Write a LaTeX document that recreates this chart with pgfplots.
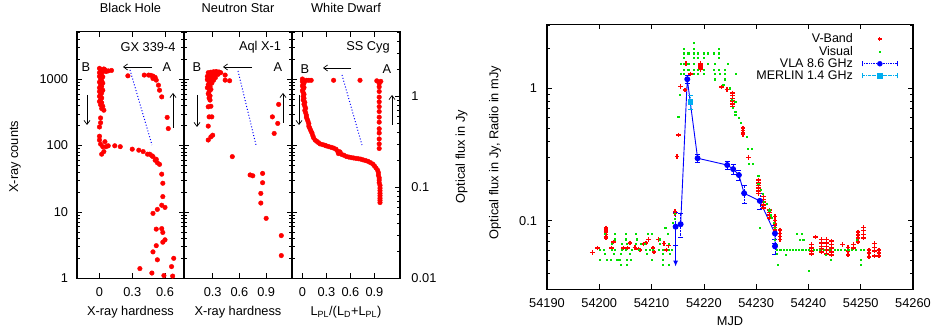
\documentclass[border=0pt]{standalone}
\usepackage{fontspec}
\setmainfont{Liberation Sans}
\usepackage{pgfplots}
\pgfplotsset{compat=1.18}
\usetikzlibrary{arrows.meta}
\definecolor{vis}{RGB}{0,225,0}
\pgfplotsset{
  every axis/.append style={scale only axis, anchor=south west,
    axis line style={line width=1.1pt},
    tick style={line width=0.6pt, black},
    major tick length=5pt, minor tick length=3pt,
    /pgf/number format/assume math mode=true,
    /pgf/number format/1000 sep={},
    xticklabel style={yshift=-4.5pt},
  },
}
\begin{document}
\fontsize{12.8}{15}\selectfont
\begin{tikzpicture}[x=1pt,y=1pt]
\path[use as bounding box] (0,0) rectangle (931,331);

% ---------- Black Hole ----------
\begin{axis}[at={(77pt,52.7pt)}, width=107pt, height=246.6pt,
  title style={at={(axis description cs:0.5,1)},anchor=center,yshift=18pt},
  xlabel style={at={(axis description cs:0.5,0)},anchor=center,yshift=-33.5pt},
  ymode=log, ymin=1, ymax=5176, ytick={1,10,100,1000},
  minor ytick={2,3,4,5,6,7,8,9,20,30,40,50,60,70,80,90,200,300,400,500,600,700,800,900,2000,3000,4000,5000},
  xmin=-0.206, xmax=0.774, xtick={0,0.3,0.6},
  yticklabels={1,10,100,1000}, yticklabel style={xshift=-4.5pt},
  title={Black Hole}, xlabel={X-ray hardness}, ylabel={X-ray counts},
  ylabel style={at={(axis description cs:-0.579,0.493)},anchor=center}]
\addplot[only marks, mark=*, mark size=2.3pt, red, mark options={fill=red, draw=red}] table[row sep=\\] {x y\\
0.00 1450\\ 0.01 1400\\ 0.02 1350\\ 0.03 1300\\ 0.04 1420\\ 0.05 1380\\ 0.06 1300\\ 0.08 1330\\ 0.11 1350\\
0.00 1250\\ 0.01 1200\\ 0.02 1150\\ 0.00 1100\\ 0.03 1080\\ 0.01 1000\\ 0.02 950\\ 0.00 900\\ 0.03 870\\
0.01 820\\ 0.02 780\\ 0.00 740\\ 0.01 700\\ 0.03 680\\ 0.00 650\\ 0.02 620\\ 0.01 580\\ 0.00 550\\ 0.02 520\\
0.01 490\\ 0.00 460\\ 0.02 440\\ 0.01 410\\ 0.03 390\\ 0.02 360\\ 0.04 340\\ 0.01 260\\ 0.01 220\\ 0.00 190\\
0.00 138\\ 0.00 121\\ 0.01 105\\ 0.05 114\\ 0.06 96\\ 0.03 96\\ 0.04 81\\ 0.02 74\\ 0.08 99\\ 0.14 99\\ 0.19 96\\
0.30 88\\ 0.36 85\\ 0.40 81\\ 0.44 74\\ 0.46 74\\ 0.48 70\\ 0.49 68\\ 0.51 60\\ 0.52 62\\ 0.53 55\\ 0.55 52\\
0.57 37\\ 0.58 27\\ 0.58 17\\ 0.57 12.6\\ 0.60 11.7\\ 0.53 10.9\\ 0.49 9.5\\ 0.52 5.5\\ 0.57 5.6\\ 0.58 4.9\\
0.60 3.8\\ 0.52 3.1\\ 0.58 3.5\\ 0.49 2.5\\ 0.53 1.9\\ 0.68 2.0\\ 0.66 1.5\\ 0.59 1.1\\ 0.67 1.08\\ 0.37 1.4\\ 0.48 1.2\\
0.26 1120\\ 0.41 1150\\ 0.45 1150\\ 0.47 1140\\ 0.49 1110\\ 0.51 1060\\ 0.52 965\\ 0.54 810\\ 0.55 680\\
0.57 540\\ 0.62 265\\ 0.63 180\\ 0.49 1020\\
};
\end{axis}

% ---------- Neutron Star ----------
\begin{axis}[at={(184pt,52.7pt)}, width=108pt, height=246.6pt,
  title style={at={(axis description cs:0.5,1)},anchor=center,yshift=18pt},
  xlabel style={at={(axis description cs:0.5,0)},anchor=center,yshift=-33.5pt},
  ymode=log, ymin=1, ymax=5176, ytick={1,10,100,1000},
  minor ytick={2,3,4,5,6,7,8,9,20,30,40,50,60,70,80,90,200,300,400,500,600,700,800,900,2000,3000,4000,5000},
  xmin=-0.022, xmax=1.19, xtick={0.3,0.6,0.9}, yticklabels={},
  title={Neutron Star}, xlabel={X-ray hardness}]
\addplot[only marks, mark=*, mark size=2.3pt, red, mark options={fill=red, draw=red}] table[row sep=\\] {x y\\
0.25 1250\\ 0.28 1270\\ 0.31 1290\\ 0.34 1300\\ 0.37 1280\\ 0.39 1250\\ 0.30 1200\\ 0.33 1220\\ 0.36 1180\\
0.27 1150\\ 0.24 1100\\ 0.29 1120\\ 0.32 1150\\ 0.26 1050\\ 0.30 1020\\ 0.33 1050\\ 0.24 980\\ 0.28 950\\
0.31 960\\ 0.26 900\\ 0.29 870\\ 0.25 820\\ 0.27 780\\ 0.24 740\\ 0.28 700\\ 0.26 650\\ 0.25 600\\ 0.27 560\\
0.26 520\\ 0.27 483\\ 0.25 383\\ 0.28 390\\ 0.29 270\\ 0.26 270\\ 0.25 196\\ 0.28 135\\ 0.25 121\\ 0.30 143\\
0.44 1150\\ 0.44 965\\ 0.49 945\\
0.52 68\\ 0.72 36\\ 0.75 35\\ 0.86 38\\ 0.86 27.5\\ 0.84 19\\ 0.84 13.6\\ 0.90 8\\ 1.07 4.4\\ 1.07 2.2\\
1.04 416\\ 0.97 270\\ 1.03 215\\ 0.99 152\\
};
\end{axis}

% ---------- White Dwarf (left ticks in counts) ----------
\begin{axis}[at={(292pt,52.7pt)}, width=108pt, height=246.6pt,
  ymode=log, ymin=1, ymax=5176, ytick={1,10,100,1000},
  minor ytick={2,3,4,5,6,7,8,9,20,30,40,50,60,70,80,90,200,300,400,500,600,700,800,900,2000,3000,4000,5000},
  xmin=-0.13, xmax=1.22, xtick=\empty, yticklabels={}, ytick pos=left,
  axis line style={draw=none}]
\end{axis}
\begin{axis}[at={(292pt,52.7pt)}, width=108pt, height=246.6pt,
  title style={at={(axis description cs:0.5,1)},anchor=center,yshift=18pt},
  xlabel style={at={(axis description cs:0.5,0)},anchor=center,yshift=-33.5pt},
  xmin=-0.13, xmax=1.22, xtick={0,0.3,0.6,0.9},
  ymode=log, ymin=0.01, ymax=5.13, ytick={0.01,0.1,1}, yticklabels={0.01,0.1,1},
  minor ytick={0.02,0.03,0.04,0.05,0.06,0.07,0.08,0.09,0.2,0.3,0.4,0.5,0.6,0.7,0.8,0.9,2,3,4,5},
  ytick pos=right, yticklabel pos=right, yticklabel style={xshift=7pt},
  title={White Dwarf}, xlabel={L\textsubscript{PL}/(L\textsubscript{D}+L\textsubscript{PL})},
  ylabel={Optical flux in Jy},
  ylabel style={at={(axis description cs:1.571,0.493)},anchor=center}]
\addplot[only marks, mark=*, mark size=2.3pt, red, mark options={fill=red, draw=red}] table[row sep=\\] {x y\\
0.00 1.55\\ 0.01 1.50\\ 0.00 1.45\\ 0.02 1.40\\ 0.01 1.35\\ 0.00 1.30\\ 0.02 1.25\\ 0.01 1.20\\ 0.00 1.15\\
0.01 1.10\\ 0.02 1.05\\ 0.01 1.00\\ 0.02 0.95\\ 0.01 0.91\\ 0.03 0.86\\ 0.02 0.82\\ 0.03 0.78\\ 0.04 0.74\\
0.03 0.70\\ 0.04 0.66\\ 0.05 0.62\\ 0.05 0.59\\ 0.06 0.56\\ 0.07 0.53\\ 0.08 0.50\\ 0.08 0.47\\ 0.09 0.45\\
0.10 0.43\\ 0.11 0.41\\ 0.12 0.395\\ 0.13 0.37\\ 0.14 0.35\\ 0.16 0.33\\ 0.18 0.32\\ 0.20 0.31\\ 0.22 0.30\\
0.25 0.295\\ 0.28 0.29\\ 0.30 0.285\\ 0.33 0.28\\ 0.36 0.275\\ 0.39 0.27\\ 0.42 0.262\\ 0.44 0.25\\ 0.46 0.24\\
0.45 0.235\\ 0.47 0.245\\ 0.49 0.23\\ 0.52 0.225\\ 0.55 0.218\\ 0.58 0.215\\ 0.61 0.212\\ 0.64 0.21\\ 0.67 0.208\\
0.70 0.206\\ 0.73 0.204\\ 0.76 0.20\\ 0.79 0.197\\ 0.82 0.193\\ 0.85 0.187\\ 0.88 0.18\\ 0.90 0.172\\ 0.92 0.163\\
0.94 0.154\\ 0.95 0.145\\ 0.95 0.136\\ 0.96 0.127\\ 0.96 0.120\\ 0.96 0.112\\ 0.97 0.105\\ 0.97 0.098\\
0.97 0.092\\ 0.97 0.086\\ 0.97 0.081\\ 0.97 0.076\\ 0.97 0.072\\ 0.97 0.068\\
0.05 1.50\\ 0.08 1.50\\ 0.11 1.50\\ 0.39 1.50\\ 0.72 1.50\\ 0.93 1.48\\ 0.98 1.46\\
0.96 1.38\\ 0.96 1.27\\ 0.96 1.13\\ 0.96 0.98\\ 0.96 0.87\\ 0.96 0.77\\ 0.96 0.68\\ 0.96 0.59\\ 0.96 0.52\\
0.96 0.44\\ 0.96 0.395\\ 0.96 0.34\\ 0.96 0.30\\ 0.96 0.267\\
};
\end{axis}

% ---------- Light curve ----------
\begin{axis}[at={(547pt,41.7pt)}, width=366pt, height=265pt,
  xmin=54190, xmax=54260, xtick={54190,54200,54210,54220,54230,54240,54250,54260},
  scaled x ticks=false,
  xticklabels={54190,54200,54210,54220,54230,54240,54250,54260},
  ymode=log, ymin=0.0303, ymax=3.04, ytick={0.1,1}, yticklabels={0.1,1},
  minor ytick={0.04,0.05,0.06,0.07,0.08,0.09,0.2,0.3,0.4,0.5,0.6,0.7,0.8,0.9,2,3},
  yticklabel style={xshift=-5.5pt},
  xlabel={MJD}, xlabel style={at={(axis description cs:0.5,0)},anchor=center,yshift=-32pt},
  ylabel={Optical flux in Jy, Radio in mJy},
  ylabel style={at={(axis description cs:-0.142,0.516)},anchor=center},
  legend style={at={(axis description cs:1,1)}, anchor=north east, xshift=-12pt, yshift=-5pt,
    draw=none, fill=none, font=\fontsize{12.5}{13}\selectfont, row sep=-2.5pt, column sep=7pt},
  legend cell align=right, legend plot pos=right]
\addplot[only marks, mark=+, mark size=2.3pt, red, mark options={line width=1.4pt},
  legend image code/.code={\path (0pt,0pt) (35pt,0pt); \draw[draw=red,line width=1.1pt] (15.3pt,0pt)--(19.7pt,0pt) (17.5pt,-2.2pt)--(17.5pt,2.2pt);}]
 table[row sep=\\] {x y\\
54198.66 0.0573\\ 54199.62 0.062\\ 54201.28 0.088\\ 54201.28 0.085\\ 54201.28 0.082\\ 54201.28 0.079\\
54201.28 0.076\\ 54201.28 0.074\\ 54202.37 0.062\\ 54202.68 0.069\\ 54204.6 0.062\\ 54205.4 0.062\\
54205.9 0.068\\ 54206.8 0.063\\ 54207.5 0.061\\ 54207.8 0.060\\ 54208.4 0.0665\\ 54208.9 0.068\\
54209.4 0.072\\ 54210.3 0.062\\ 54210.5 0.058\\ 54211.3 0.072\\ 54212.4 0.067\\ 54212.9 0.060\\
54213.2 0.065\\ 54214.5 0.117\\ 54214.5 0.113\\ 54214.9 0.304\\ 54215.1 0.443\\ 54215.56 1.03\\
54216.4 0.97\\ 54216.6 1.53\\ 54217.4 1.28\\ 54219.4 1.54\\ 54219.4 1.50\\ 54219.4 1.46\\ 54219.4 1.42\\
54219.4 1.38\\ 54223.4 1.02\\ 54224.4 0.98\\ 54225.5 0.92\\ 54225.5 0.88\\ 54225.5 0.84\\ 54225.5 0.80\\
54225.5 0.76\\ 54225.5 0.73\\ 54227.5 0.50\\ 54227.5 0.48\\ 54227.5 0.46\\ 54227.5 0.445\\ 54228.5 0.30\\
54230.4 0.203\\ 54230.4 0.193\\ 54230.4 0.184\\ 54230.4 0.176\\ 54230.4 0.168\\ 54230.4 0.161\\
54231.4 0.152\\ 54231.4 0.145\\ 54231.4 0.138\\ 54231.4 0.131\\ 54231.4 0.125\\ 54232.5 0.120\\
54232.5 0.115\\ 54232.5 0.110\\ 54232.5 0.105\\ 54233.6 0.107\\ 54233.6 0.100\\ 54233.6 0.094\\
54233.6 0.089\\ 54233.6 0.085\\ 54234.6 0.085\\ 54234.6 0.080\\ 54234.6 0.076\\ 54234.6 0.072\\
54240.6 0.066\\ 54240.6 0.062\\ 54240.6 0.059\\ 54240.6 0.056\\ 54241.4 0.075\\ 54242.5 0.072\\
54242.5 0.068\\ 54242.5 0.064\\ 54242.5 0.061\\ 54242.5 0.058\\ 54243.5 0.072\\ 54243.5 0.068\\
54243.5 0.064\\ 54243.5 0.060\\ 54243.5 0.056\\ 54244.4 0.070\\ 54244.4 0.066\\ 54244.4 0.062\\
54244.4 0.058\\ 54244.4 0.055\\ 54246.5 0.066\\ 54247.6 0.063\\ 54247.6 0.059\\ 54247.6 0.055\\
54248.6 0.066\\ 54248.6 0.062\\ 54249.5 0.082\\ 54249.5 0.078\\ 54249.5 0.074\\ 54249.5 0.069\\
54250.5 0.089\\ 54250.5 0.084\\ 54250.5 0.079\\ 54250.5 0.074\\ 54251.6 0.060\\ 54251.6 0.057\\
54251.6 0.053\\ 54252.6 0.067\\ 54252.6 0.063\\ 54252.6 0.059\\ 54252.6 0.054\\ 54253.5 0.060\\
54253.5 0.057\\ 54253.5 0.054\\
};
\addlegendentry{V-Band}
\addplot[only marks, mark=square*, mark size=0.55pt, vis, mark options={draw=none, fill=vis},
  legend image code/.code={\path (0pt,0pt) (35pt,0pt); \fill[vis] (16.9pt,-0.6pt) rectangle (18.1pt,0.6pt);}]
 table[row sep=\\] {x y\\
54201.1 0.0803\\ 54202.9 0.0803\\ 54205.1 0.0803\\ 54207.0 0.0803\\ 54209.2 0.0803\\ 54210.0 0.0803\\ 54213.1 0.0803\\
54203.0 0.0724\\ 54205.1 0.0724\\ 54207.2 0.0724\\ 54211.5 0.0724\\
54202.4 0.0667\\ 54204.3 0.0667\\ 54205.2 0.0667\\ 54207.0 0.0667\\ 54207.9 0.0667\\ 54208.7 0.0667\\ 54211.6 0.0667\\ 54213.2 0.0667\\
54200.1 0.0608\\ 54200.9 0.0608\\ 54202.4 0.0608\\ 54203.0 0.0608\\ 54204.3 0.0608\\ 54205.1 0.0608\\ 54206.2 0.0608\\ 54207.5 0.0608\\
54208.9 0.0608\\ 54209.7 0.0608\\ 54210.3 0.0608\\ 54211.3 0.0608\\ 54212.2 0.0608\\ 54213.2 0.0608\\ 54213.8 0.0608\\
54201.1 0.056\\ 54202.7 0.056\\ 54204.1 0.056\\ 54205.9 0.056\\ 54209.1 0.056\\ 54212.2 0.056\\ 54213.4 0.056\\
54200.1 0.0505\\ 54201.4 0.0505\\ 54202.2 0.0505\\ 54203.3 0.0505\\ 54203.8 0.0505\\ 54205.2 0.0505\\ 54206.0 0.0505\\ 54210.0 0.0505\\ 54212.1 0.0505\\
54204.1 0.0463\\ 54205.2 0.0463\\ 54212.1 0.0463\\ 54213.2 0.0463\\
54212.6 0.0878\\ 54214.0 0.097\\ 54214.5 0.113\\ 54214.4 0.104\\ 54215.1 0.61\\ 54215.3 0.89\\
54218.0 2.21\\ 54216.1 2.0\\ 54218.0 2.0\\ 54222.9 2.0\\
54216.1 1.84\\ 54217.0 1.84\\ 54218.0 1.84\\ 54218.9 1.84\\ 54219.9 1.84\\ 54220.8 1.84\\ 54221.8 1.84\\ 54222.9 1.84\\
54216.1 1.69\\ 54218.0 1.69\\ 54218.9 1.69\\ 54219.9 1.69\\ 54222.9 1.69\\
54215.6 1.53\\ 54216.1 1.53\\ 54217.0 1.53\\ 54218.0 1.53\\ 54220.8 1.53\\ 54222.0 1.53\\ 54224.6 1.53\\
54216.1 1.39\\ 54217.0 1.39\\ 54218.0 1.39\\ 54218.9 1.39\\ 54219.9 1.39\\ 54221.8 1.39\\ 54222.9 1.39\\ 54224.0 1.39\\
54215.6 1.28\\ 54216.1 1.28\\ 54218.0 1.28\\ 54218.9 1.28\\ 54219.9 1.28\\ 54222.0 1.28\\ 54223.0 1.28\\ 54224.0 1.28\\ 54226.1 1.28\\
54222.0 1.17\\ 54224.0 1.17\\
54223.7 1.06\\ 54225.0 1.0\\ 54225.3 0.82\\ 54226.0 0.79\\ 54225.5 0.71\\ 54226.0 0.67\\ 54226.0 0.63\\ 54226.6 0.60\\
54227.1 0.55\\ 54228.2 0.43\\ 54228.3 0.35\\ 54229.1 0.35\\ 54228.5 0.27\\ 54229.4 0.27\\ 54230.4 0.22\\ 54230.4 0.19\\
54230.8 0.17\\ 54231.2 0.16\\ 54231.4 0.14\\ 54232.0 0.135\\ 54232.5 0.12\\ 54232.8 0.11\\ 54233.0 0.105\\ 54233.3 0.097\\
54233.5 0.088\\ 54230.7 0.088\\ 54233.6 0.072\\ 54234.0 0.066\\ 54234.0 0.056\\
54234.0 0.0608\\ 54234.6 0.0608\\ 54235.2 0.0608\\ 54235.8 0.0608\\ 54236.4 0.0608\\ 54237.0 0.0608\\
54237.6 0.0608\\ 54238.2 0.0608\\ 54238.8 0.0608\\ 54239.4 0.0608\\ 54240.0 0.0608\\ 54241.0 0.0608\\
54241.6 0.0608\\ 54242.2 0.0608\\ 54243.0 0.0608\\ 54244.0 0.0608\\ 54245.0 0.0608\\ 54245.6 0.0608\\
54246.2 0.0608\\ 54247.0 0.0608\\ 54247.6 0.0608\\ 54248.2 0.0608\\ 54249.0 0.0608\\ 54250.0 0.0608\\ 54250.6 0.0608\\
54237.8 0.080\\ 54238.7 0.080\\ 54238.3 0.072\\ 54239.0 0.072\\ 54249.2 0.072\\ 54235.7 0.055\\ 54243.3 0.055\\
54244.3 0.0505\\ 54250.0 0.0505\\ 54250.0 0.0463\\ 54234.2 0.0463\\ 54240.0 0.042\\
};
\addlegendentry{Visual}
\addplot[blue, line width=0.9pt, mark=*, mark size=2.5pt, mark options={fill=blue, solid},
  forget plot,
  error bars/.cd, y dir=both, y explicit,
  error bar style={blue, densely dotted, line width=0.6pt},
  error mark options={blue, rotate=90, mark size=2.5pt, solid, line width=0.5pt}]
 coordinates {
(54214.6,0.090) +- (0,0.025)
(54215.56,0.094) +- (0,0.019)
(54216.83,1.17) +- (0,0.08)
(54218.8,0.296) +- (0,0.02)
(54224.47,0.263) +- (0,0.02)
(54225.6,0.245) +- (0,0.02)
(54226.7,0.221) +- (0,0.02)
(54227.7,0.161) +- (0,0.025)
(54230.7,0.141) +- (0,0.02)
(54233.6,0.080) +- (0,0.012)
(54233.6,0.064) +- (0,0.008)
};
\addlegendimage{legend image code/.code={\draw[blue, densely dotted, line width=0.7pt] (0pt,0pt)--(35pt,0pt); \draw[blue,line width=0.6pt] (0pt,-2.5pt)--(0pt,2.5pt) (35pt,-2.5pt)--(35pt,2.5pt); \fill[blue] (17.5pt,0pt) circle (2.5pt);}}
\addlegendentry{VLA 8.6 GHz}
\addplot[cyan, line width=0.9pt, mark=square*, mark size=2.3pt, mark options={fill=cyan, solid},
  forget plot,
  error bars/.cd, y dir=both, y explicit,
  error bar style={cyan, densely dashdotted, line width=0.6pt},
  error mark options={cyan, rotate=90, mark size=2.5pt, solid}]
 coordinates {(54217.47,0.79) +- (0,0.1)};
\addlegendimage{legend image code/.code={\draw[cyan, densely dashdotted, line width=0.9pt] (0pt,0pt)--(35pt,0pt); \draw[cyan,line width=0.6pt] (0pt,-2.5pt)--(0pt,2.5pt) (35pt,-2.5pt)--(35pt,2.5pt); \fill[cyan] (15pt,-2.5pt) rectangle (20pt,2.5pt);}}
\addlegendentry{MERLIN 1.4 GHz}
\draw[blue, line width=1pt, -{Latex[length=6pt,width=5pt]}] (axis cs:54214.6,0.09) -- (axis cs:54214.6,0.045);
\end{axis}

% ---------- annotations ----------
\node at (148,284) {GX 339-4};
\node at (260,284) {Aql X-1};
\node at (368,284) {SS Cyg};
\node at (86,264) {B}; \node at (167,264) {A};
\node at (197,264) {B}; \node at (278,264) {A};
\node at (305,262) {B}; \node at (387,262) {A};
\begin{scope}[line width=0.7pt, -{Straight Barb[length=4pt,width=6pt]}]
\draw (152,264) -- (123,264);
\draw (252,264) -- (223,264);
\draw (351,263) -- (323,263);
\draw (87,236) -- (87,206);
\draw (173,203) -- (173,238);
\draw (197,236) -- (197,204);
\draw (283,208) -- (283,238);
\draw (299,236) -- (299,206);
\draw (392,206) -- (392,236);
\end{scope}
\begin{scope}[blue, dotted, line width=1pt]
\draw (130,261) -- (152,186);
\draw (238,260) -- (256,186);
\draw (342,256) -- (362,186);
\end{scope}
\end{tikzpicture}
\end{document}
